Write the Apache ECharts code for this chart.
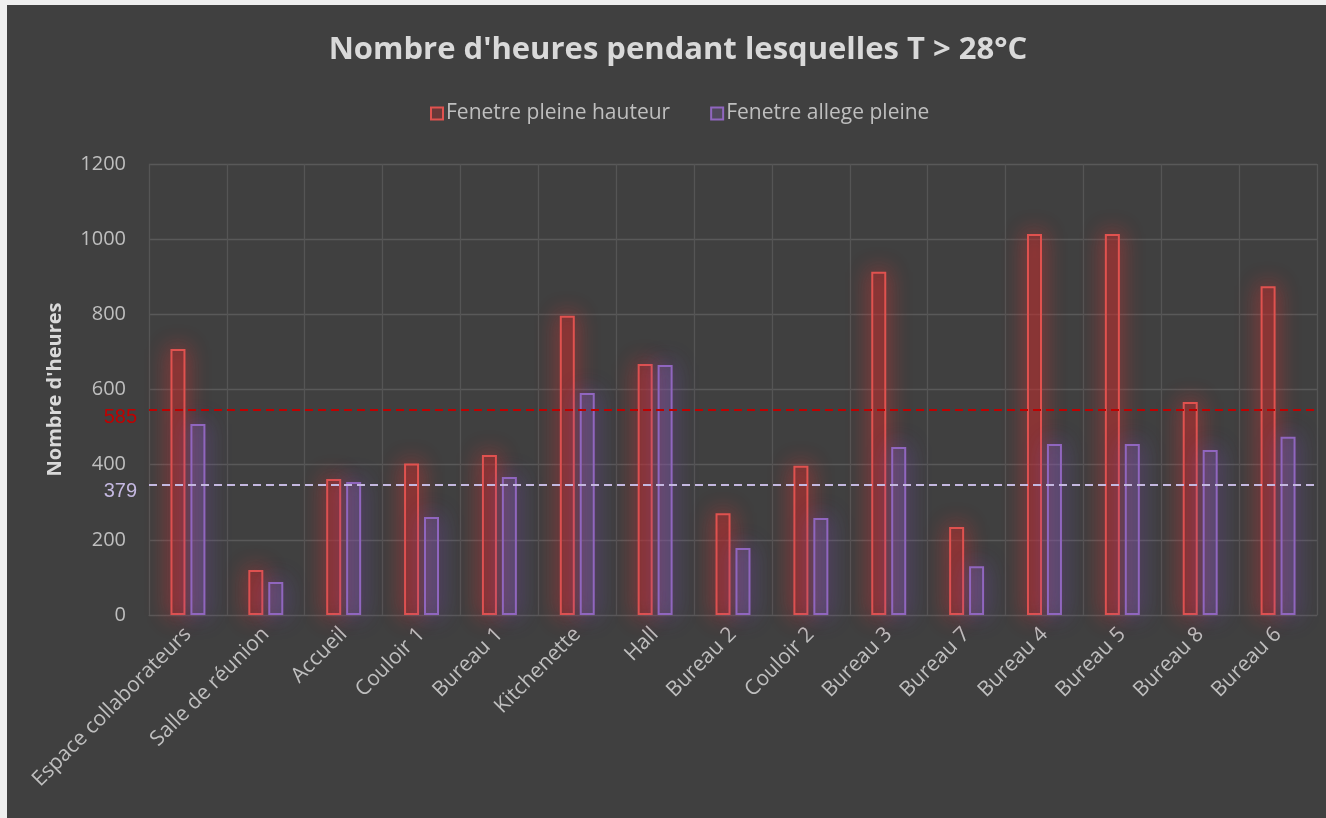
<!DOCTYPE html>
<html>
<head>
<meta charset="utf-8">
<script src="https://cdn.jsdelivr.net/npm/echarts@6/dist/echarts.min.js"></script>
<style>
  html, body { margin: 0; padding: 0; background: #efefef; overflow: hidden; }
  #chart { position: absolute; left: 7px; top: 5px; width: 1342px; height: 813px; background: #404040; }
</style>
</head>
<body>
<div id="chart"></div>
<script>
var categories = ["Espace collaborateurs", "Salle de réunion", "Accueil", "Couloir 1", "Bureau 1",
  "Kitchenette", "Hall", "Bureau 2", "Couloir 2", "Bureau 3", "Bureau 7", "Bureau 4",
  "Bureau 5", "Bureau 8", "Bureau 6"];
var pleineHauteur = [708, 120, 362, 403, 426, 796, 668, 271, 397, 913, 234, 1014, 1014, 567, 875];
var allegePleine = [508, 88, 354, 261, 367, 591, 665, 178, 258, 447, 130, 455, 455, 439, 474];
// lignes de reference : position, texte affiche
var ligneRouge = { value: 545, text: "585" };
var ligneViolette = { value: 347, text: "379" };
var yTicks = { min: 0, max: 1200, interval: 200 };

var font = "Open Sans";
var myChart = echarts.init(document.getElementById("chart"));

function refLine(l, color) {
  return {
    silent: true,
    symbol: "none",
    animation: false,
    lineStyle: { color: color, width: 2, type: [8, 5], shadowBlur: 0 },
    label: {
      show: true,
      position: "start",
      distance: 12,
      offset: [0, 7],
      formatter: l.text,
      color: color,
      fontFamily: "Liberation Sans",
      fontSize: 20
    },
    data: [{ yAxis: l.value }]
  };
}

myChart.setOption({
  backgroundColor: "#404040",
  animation: false,
  title: {
    text: "Nombre d'heures pendant lesquelles T > 28°C",
    left: "center",
    top: 25,
    textStyle: { color: "#d9d9d9", fontFamily: font, fontWeight: "bold", fontSize: 31 }
  },
  legend: {
    left: 418,
    top: 93,
    icon: "rect",
    itemWidth: 12,
    itemHeight: 12,
    itemGap: 40,
    textStyle: { color: "#bfbfbf", fontFamily: font, fontSize: 21, padding: [0, 0, 0, -2] },
    itemStyle: { shadowBlur: 0 },
    data: ["Fenetre pleine hauteur", "Fenetre allege pleine"]
  },
  grid: { left: 142, right: 32, top: 159, bottom: 203 },
  xAxis: {
    type: "category",
    data: categories,
    axisTick: { show: false },
    axisLine: { lineStyle: { color: "#595959" } },
    splitLine: { show: true, lineStyle: { color: "#555555", width: 1.3 } },
    axisLabel: {
      interval: 0,
      rotate: 45,
      margin: 16,
      color: "#bfbfbf",
      fontFamily: font,
      fontSize: 21
    }
  },
  yAxis: {
    type: "value",
    min: yTicks.min,
    max: yTicks.max,
    interval: yTicks.interval,
    name: "Nombre d'heures",
    nameLocation: "middle",
    nameGap: 84,
    nameRotate: 90,
    nameTextStyle: { color: "#d9d9d9", fontFamily: font, fontWeight: "bold", fontSize: 20 },
    axisLine: { show: false },
    axisTick: { show: false },
    splitLine: { lineStyle: { color: "#595959", width: 1.3 } },
    axisLabel: {
      margin: 23,
      color: "#bfbfbf",
      fontFamily: font,
      fontSize: 20,
      formatter: function (v) { return String(v); }
    }
  },
  series: [
    {
      name: "Fenetre pleine hauteur",
      type: "bar",
      barWidth: 15,
      barGap: "33%",
      data: pleineHauteur,
      itemStyle: {
        color: "rgba(170,45,45,0.4)",
        borderColor: "#e0524f",
        borderWidth: 2,
        shadowBlur: 22,
        shadowColor: "rgba(235,50,50,1)"
      },
      markLine: refLine(ligneRouge, "#c00000")
    },
    {
      name: "Fenetre allege pleine",
      type: "bar",
      barWidth: 15,
      data: allegePleine,
      itemStyle: {
        color: "rgba(128,100,170,0.25)",
        borderColor: "#9066bf",
        borderWidth: 2,
        shadowBlur: 22,
        shadowColor: "rgba(125,80,200,1)"
      },
      markLine: refLine(ligneViolette, "#c4b8e0")
    }
  ]
});
</script>
</body>
</html>
